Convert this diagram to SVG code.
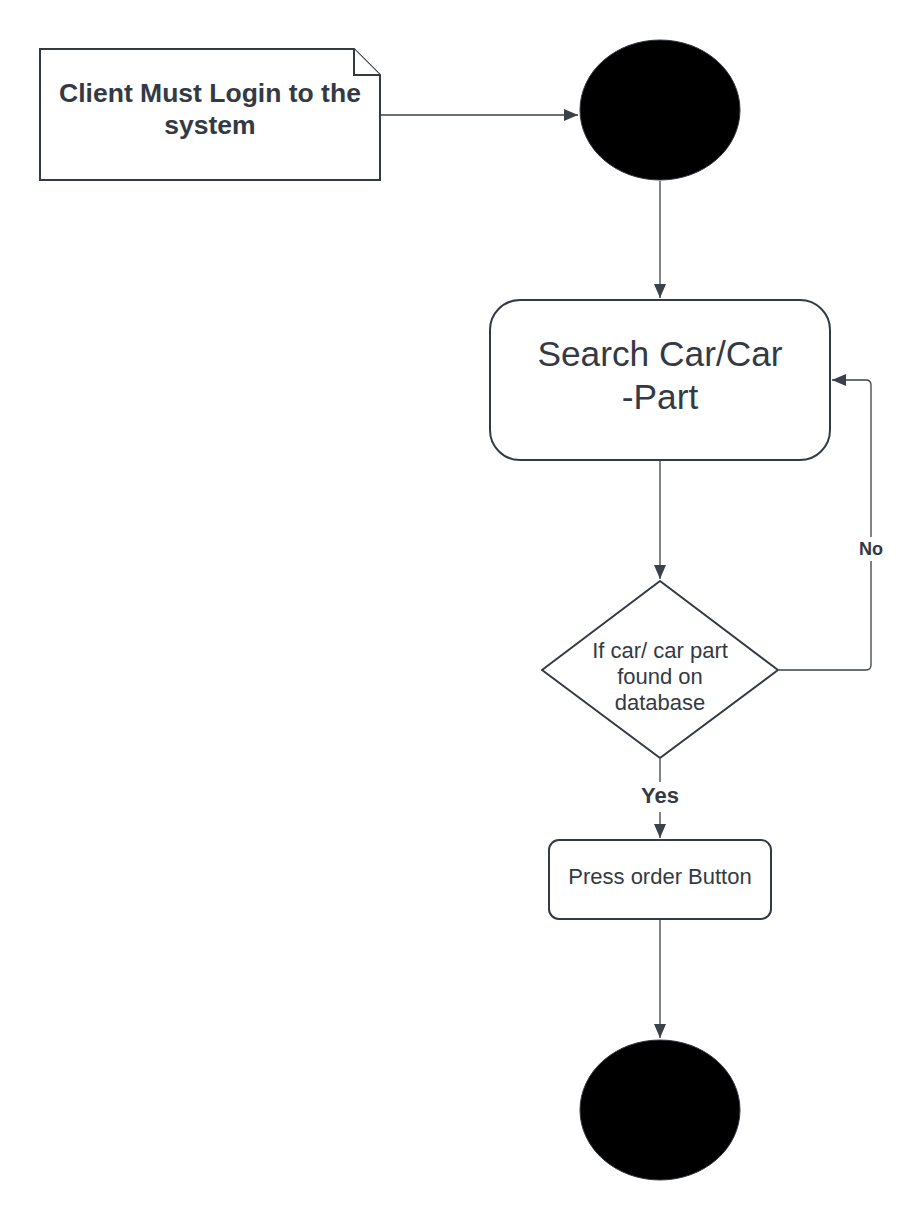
<svg xmlns="http://www.w3.org/2000/svg" width="923" height="1220" viewBox="0 0 923 1220">
<style>
.shape{fill:#fff;stroke:#333a44;stroke-width:2}
.dot{fill:#000;stroke:#333a44;stroke-width:1}
.conn{fill:none;stroke:#3a414a;stroke-width:1.3}
.t{font-family:"Liberation Sans",Arial,sans-serif;fill:#333a44;text-anchor:middle}
.b{font-weight:bold}
</style>
<defs>
<marker id="ah" markerWidth="16" markerHeight="12" refX="14" refY="6" orient="auto" markerUnits="userSpaceOnUse">
<path d="M0,0 L14,6 L0,12 Z" fill="#3a414a"/>
</marker>
</defs>
<rect width="923" height="1220" fill="#fff"/>
<g id="note">
<path class="shape" d="M40,49 H354 L380,75 V180 H40 Z"/>
<path class="shape" d="M354,49 V75 H380" fill="none"/>
<text class="t b" x="210" y="102" font-size="26.5">Client Must Login to the</text>
<text class="t b" x="210" y="134" font-size="26.5">system</text>
</g>
<g id="start">
<ellipse class="dot" cx="660" cy="110" rx="80" ry="70"/>
</g>
<g id="search">
<rect class="shape" x="490" y="300" width="340" height="160" rx="30"/>
<text class="t" x="660" y="366" font-size="35.3">Search Car/Car</text>
<text class="t" x="660" y="409" font-size="35.3">-Part</text>
</g>
<g id="decision">
<path class="shape" stroke-linejoin="round" d="M660,581 L778,670 L660,758 L542,670 Z"/>
<text class="t" x="660" y="658" font-size="22">If car/ car part</text>
<text class="t" x="660" y="684" font-size="22">found on</text>
<text class="t" x="660" y="710" font-size="22">database</text>
</g>
<g id="order">
<rect class="shape" x="549" y="840" width="222" height="79" rx="10"/>
<text class="t" x="660" y="884" font-size="22">Press order Button</text>
</g>
<g id="end">
<ellipse class="dot" cx="660" cy="1110" rx="80" ry="70"/>
</g>
<g id="connectors">
<path class="conn" d="M381,115 H578" marker-end="url(#ah)"/>
<path class="conn" d="M660,181 V298" marker-end="url(#ah)"/>
<path class="conn" d="M660,461 V579" marker-end="url(#ah)"/>
<path class="conn" d="M779,670 H866 Q871,670 871,665 V385 Q871,380 866,380 H832" marker-end="url(#ah)"/>
<rect x="855" y="537" width="32" height="24" fill="#fff"/>
<text class="t b" x="871" y="555" font-size="18">No</text>
<path class="conn" d="M660,759 V782"/>
<text class="t b" x="660" y="803" font-size="22">Yes</text>
<path class="conn" d="M660,812 V838" marker-end="url(#ah)"/>
<path class="conn" d="M660,920 V1038" marker-end="url(#ah)"/>
</g>
</svg>
